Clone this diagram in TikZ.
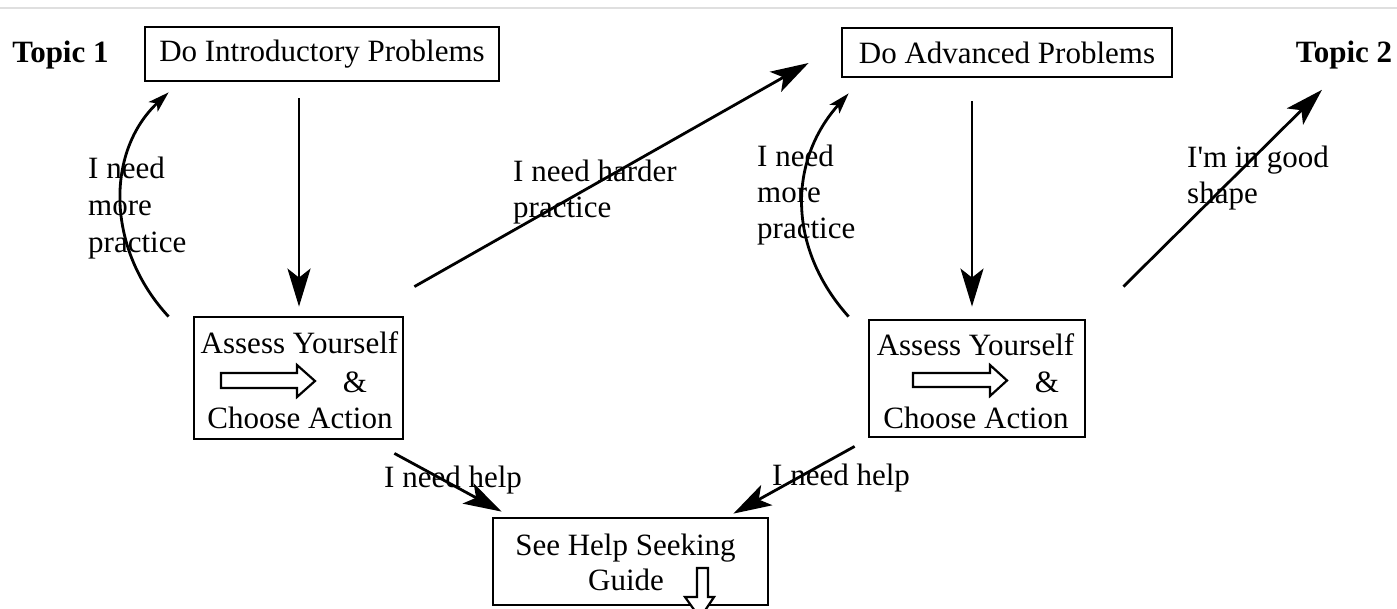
\documentclass[tikz,border=0pt]{standalone}
\usepackage{fontspec}
\setmainfont{Liberation Serif}
\usetikzlibrary{arrows.meta,calc}
\begin{document}
\begin{tikzpicture}[x=1pt,y=-1pt,
  every node/.style={font=\fontsize{31}{36}\selectfont, inner sep=0pt},
  box/.style={draw, line width=2.8pt},
  lbl/.style={anchor=west, align=left},
  conn/.style={line width=2.8pt},
  bigtip/.style={conn, -{Stealth[length=38pt,width=23pt,inset=9pt]}},
  smalltip/.style={conn, -{Stealth[length=21pt,width=13pt,inset=5pt]}},
  hollow/.style={draw, line width=2.2pt, fill=white}]
\useasboundingbox (0,0) rectangle (1397,608);
\fill[white] (0,0) rectangle (1397,608);
\draw[gray!25, line width=2.5pt] (0,8) -- (1397,8);

% topics
\node[anchor=base, font=\fontsize{31}{36}\selectfont\bfseries] (t1) at (60.5,62) {Topic 1};
\node[anchor=base, font=\fontsize{31}{36}\selectfont\bfseries] (t2) at (1344,62) {Topic 2};

% boxes
\node[box, minimum width=354pt, minimum height=54pt] (intro) at (322,54) {Do Introductory Problems};
\node[box, minimum width=330pt, minimum height=49pt] (adv) at (1007,52.5) {Do Advanced Problems};
\node[box, minimum width=209pt, minimum height=122pt] (as1) at (298.5,378) {};
\node[box, minimum width=216pt, minimum height=117pt] (as2) at (977,378.5) {};
\node[box, minimum width=275pt, minimum height=87pt] (help) at (630.5,561.5) {};

% box texts
\node[anchor=base] (as1a) at (299.5,353) {Assess Yourself};
\node[anchor=base] (as1b) at (355,392) {\&};
\node[anchor=base] (as1c) at (300,428) {Choose Action};
\node[anchor=base] (as2a) at (975.5,355) {Assess Yourself};
\node[anchor=base] (as2b) at (1047,392) {\&};
\node[anchor=base] (as2c) at (976,428) {Choose Action};
\node[anchor=base] (helpa) at (625.5,555) {See Help Seeking};
\node[anchor=base] (helpb) at (626,590) {Guide};

% hollow block arrows
\draw[hollow] (221,373) -- (297,373) -- (297,365) -- (315,381) -- (297,397) -- (297,388) -- (221,388) -- cycle;
\draw[hollow] (913,373) -- (990,373) -- (990,365) -- (1007,380.5) -- (990,396) -- (990,387) -- (913,387) -- cycle;
\draw[hollow] (697,568) -- (708,568) -- (708,597) -- (714,597) -- (700,618) -- (685,597) -- (697,597) -- cycle;

% connectors
\draw[bigtip] ($(intro.south -| as1.north)+(0.5,16)$) -- ($(as1.north)+(0.5,-9)$);
\draw[bigtip] ($(adv.south -| as2.north)+(-5,23)$) -- ($(as2.north)+(-5,-12)$);
\draw[smalltip] ($(as1.north west)+(-24,1)$) .. controls +(-63,-68) and +(-63,59) .. ($(intro.south west)+(25,10)$);
\draw[smalltip] ($(as2.north west)+(-19,-2)$) .. controls +(-61,-68) and +(-61,68) .. ($(adv.south west)+(8,15)$);
\draw[bigtip] ($(as1.north east)+(10,-29)$) -- ($(adv.west)+(-32,10.5)$);
\draw[bigtip] ($(as2.north east)+(37,-32)$) -- ($(t2.south)+(-22,21)$);
\draw[bigtip] ($(as1.south east)+(-10,13)$) -- ($(help.north west)+(10,-5)$);
\draw[bigtip] ($(as2.south west)+(-13,8)$) -- ($(help.north east)+(-36,-3)$);

% labels
\node[lbl, font=\fontsize{31}{37}\selectfont] (l1) at (88,208) {I need\\more\\practice};
\node[lbl] (l2) at (757,195) {I need\\more\\practice};
\node[lbl] (l3) at (513,192) {I need harder\\practice};
\node[lbl] (l4) at (1187,178) {I\textquotesingle m in good\\shape};
\node[anchor=base west] (l5) at (384,487) {I need help};
\node[anchor=base west] (l6) at (772,485) {I need help};
\end{tikzpicture}
\end{document}
